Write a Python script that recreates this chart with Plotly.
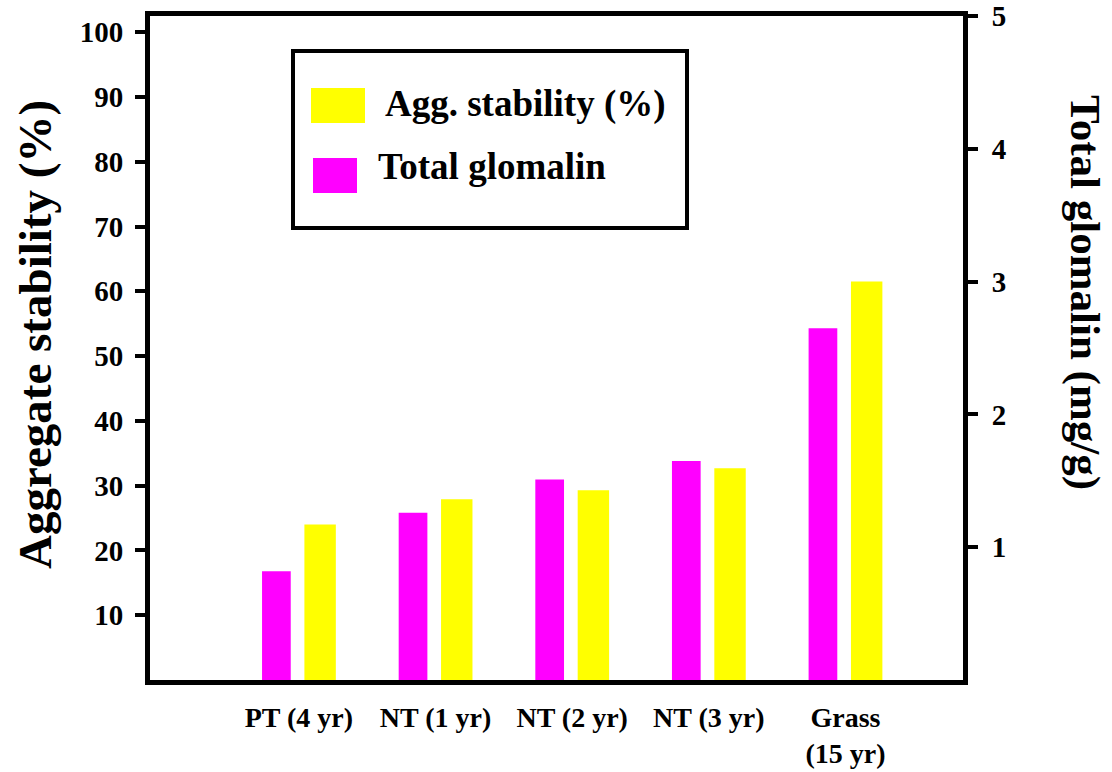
import plotly.graph_objects as go

categories = ["PT (4 yr)", "NT (1 yr)", "NT (2 yr)", "NT (3 yr)", "Grass<br>(15 yr)"]
agg_stability = [24.0, 27.9, 29.3, 32.7, 61.5]      # % (left axis)
total_glomalin = [0.82, 1.26, 1.51, 1.65, 2.65]     # mg/g (right axis)
left_ticks = [10, 20, 30, 40, 50, 60, 70, 80, 90, 100]
right_ticks = [1, 2, 3, 4, 5]

FONT = "Liberation Serif"
MAGENTA = "#FF00FF"
YELLOW = "#FFFF00"

# plot area in pixels
L, R, T, B = 150, 963, 16, 680
PW, PH = R - L, B - T


def px(xp):
    return (xp - L) / PW


def py(yp):
    return (B - yp) / PH


fig = go.Figure()
fig.add_trace(go.Bar(x=categories, y=total_glomalin, yaxis="y2", name="Total glomalin",
                     marker=dict(color=MAGENTA, line=dict(width=0)),
                     width=0.21, offset=-0.27, showlegend=False))
fig.add_trace(go.Bar(x=categories, y=agg_stability, yaxis="y", name="Agg. stability (%)",
                     marker=dict(color=YELLOW, line=dict(width=0)),
                     width=0.23, offset=0.04, showlegend=False))

tickfont = dict(family=FONT, size=29, color="black", weight="bold")

fig.update_layout(
    width=1112, height=772,
    margin=dict(l=L, r=1112 - R, t=T, b=772 - B, autoexpand=False),
    paper_bgcolor="white", plot_bgcolor="white",
    barmode="overlay",
    font=dict(family=FONT, color="black"),
    xaxis=dict(type="category", range=[-1.09, 4.86], showgrid=False,
               showline=True, linecolor="black", linewidth=5, mirror=True,
               ticks="", tickfont=dict(family=FONT, size=28, color="black", weight="bold"),
               ticklabelstandoff=8, automargin=False),
    yaxis=dict(range=[0, 102.5], tickvals=left_ticks, showgrid=False, zeroline=False,
               showline=True, linecolor="black", linewidth=5, automargin=False,
               ticks="outside", ticklen=10, tickwidth=4, tickcolor="black",
               tickfont=tickfont, ticklabelstandoff=6),
    yaxis2=dict(range=[0, 5.001], tickvals=right_ticks, overlaying="y", side="right",
                showgrid=False, zeroline=False, automargin=False,
                showline=True, linecolor="black", linewidth=5,
                ticks="outside", ticklen=10, tickwidth=4, tickcolor="black",
                tickfont=tickfont, ticklabelstandoff=8),
)

# axis titles
fig.add_annotation(text="<b>Aggregate stability (%)</b>", xref="paper", yref="paper",
                   x=0, y=py(335), xanchor="center", yanchor="middle", xshift=35 - L,
                   textangle=-90, showarrow=False,
                   font=dict(family=FONT, size=47, color="black"))
fig.add_annotation(text="<b>Total glomalin (mg/g)</b>", xref="paper", yref="paper",
                   x=1.0, y=py(292), xanchor="center", yanchor="middle", xshift=1085 - R,
                   textangle=90, showarrow=False,
                   font=dict(family=FONT, size=43, color="black"))

# legend box
fig.add_shape(type="rect", xref="paper", yref="paper",
              x0=px(293), x1=px(687), y0=py(228), y1=py(51),
              line=dict(color="black", width=4), fillcolor="rgba(0,0,0,0)")
fig.add_shape(type="rect", xref="paper", yref="paper",
              x0=px(311), x1=px(365), y0=py(123), y1=py(88),
              line=dict(width=0), fillcolor=YELLOW)
fig.add_shape(type="rect", xref="paper", yref="paper",
              x0=px(313), x1=px(357), y0=py(193), y1=py(158),
              line=dict(width=0), fillcolor=MAGENTA)
fig.add_annotation(text="<b>Agg. stability (%)</b>", xref="paper", yref="paper",
                   x=px(383), y=py(104), xanchor="left", yanchor="middle",
                   showarrow=False, font=dict(family=FONT, size=37, color="black"))
fig.add_annotation(text="<b>Total glomalin</b>", xref="paper", yref="paper",
                   x=px(376), y=py(166), xanchor="left", yanchor="middle",
                   showarrow=False, font=dict(family=FONT, size=37, color="black"))

fig.write_html("out.html", config={"displayModeBar": False},
               post_script="document.body.style.margin='0';")
